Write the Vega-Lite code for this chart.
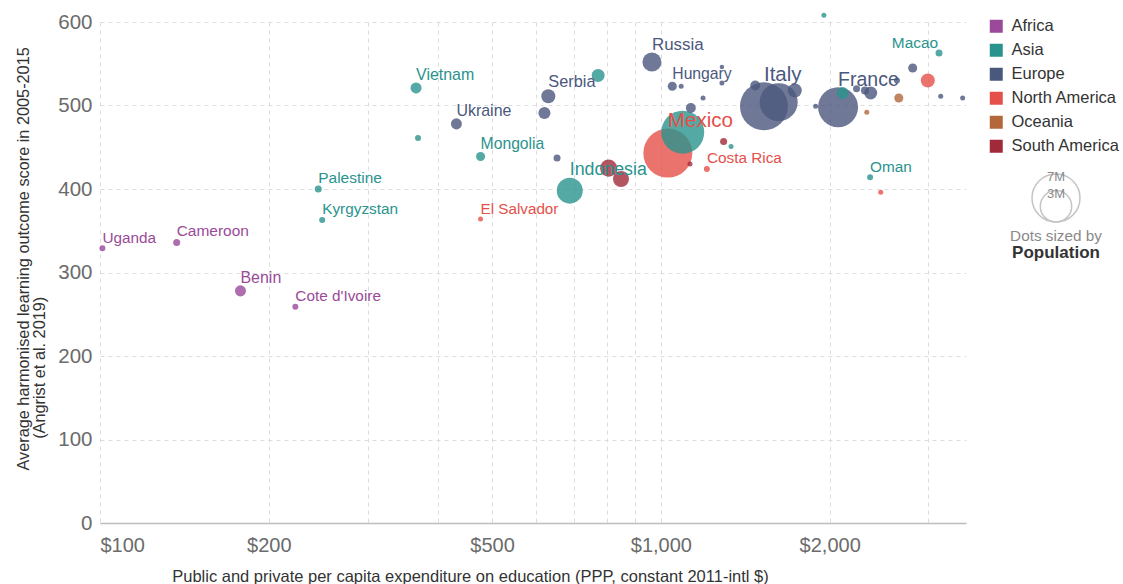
{
  "$schema": "https://vega.github.io/schema/vega-lite/v6.json",
  "autosize": "pad",
  "padding": {"left": 15, "top": 12, "right": 0, "bottom": 0},
  "background": "white",
  "config": {
    "view": {"stroke": null},
    "font": "Liberation Sans",
    "axis": {"gridColor": "#dcdcdc", "gridDash": [4, 4], "gridWidth": 1, "ticks": false}
  },
  "bounds": "flush",
  "spacing": 0,
  "resolve": {"scale": {"size": "independent"}, "legend": {"size": "independent"}},
  "hconcat": [
    {
      "width": 866,
      "height": 501,
      "data": {"values": [
        {"country": "Uganda", "label": "Uganda", "continent": "Africa", "exp": 101, "score": 329, "pop": 0.11},
        {"country": "Cameroon", "label": "Cameroon", "continent": "Africa", "exp": 137, "score": 336, "pop": 0.15},
        {"country": "Benin", "label": "Benin", "continent": "Africa", "exp": 178, "score": 278, "pop": 0.37},
        {"country": "Cote d'Ivoire", "label": "Cote d'Ivoire", "continent": "Africa", "exp": 223, "score": 259, "pop": 0.11},
        {"country": "Palestine", "label": "Palestine", "continent": "Asia", "exp": 245, "score": 400, "pop": 0.15},
        {"country": "Kyrgyzstan", "label": "Kyrgyzstan", "continent": "Asia", "exp": 249, "score": 363, "pop": 0.11},
        {"country": "Vietnam", "label": "Vietnam", "continent": "Asia", "exp": 366, "score": 521, "pop": 0.37},
        {"country": "Asia A", "label": null, "continent": "Asia", "exp": 369, "score": 461, "pop": 0.11},
        {"country": "Mongolia", "label": "Mongolia", "continent": "Asia", "exp": 477, "score": 439, "pop": 0.25},
        {"country": "Asia B", "label": null, "continent": "Asia", "exp": 773, "score": 536, "pop": 0.51},
        {"country": "Indonesia", "label": "Indonesia", "continent": "Asia", "exp": 688, "score": 398, "pop": 2.05},
        {"country": "Asia C", "label": null, "continent": "Asia", "exp": 1094, "score": 468, "pop": 5.62},
        {"country": "Asia D", "label": null, "continent": "Asia", "exp": 1334, "score": 451, "pop": 0.076},
        {"country": "Asia E", "label": null, "continent": "Asia", "exp": 2109, "score": 515, "pop": 0.44},
        {"country": "Oman", "label": "Oman", "continent": "Asia", "exp": 2361, "score": 414, "pop": 0.11},
        {"country": "Macao", "label": "Macao", "continent": "Asia", "exp": 3133, "score": 563, "pop": 0.15},
        {"country": "Asia F", "label": null, "continent": "Asia", "exp": 1953, "score": 608, "pop": 0.076},
        {"country": "Ukraine", "label": "Ukraine", "continent": "Europe", "exp": 432, "score": 478, "pop": 0.37},
        {"country": "Serbia", "label": "Serbia", "continent": "Europe", "exp": 630, "score": 511, "pop": 0.6},
        {"country": "Europe A", "label": null, "continent": "Europe", "exp": 620, "score": 491, "pop": 0.44},
        {"country": "Europe B", "label": null, "continent": "Europe", "exp": 653, "score": 437, "pop": 0.15},
        {"country": "Russia", "label": "Russia", "continent": "Europe", "exp": 964, "score": 552, "pop": 1.1},
        {"country": "Hungary", "label": "Hungary", "continent": "Europe", "exp": 1048, "score": 523, "pop": 0.25},
        {"country": "Europe C", "label": null, "continent": "Europe", "exp": 1087, "score": 523, "pop": 0.076},
        {"country": "Europe D", "label": null, "continent": "Europe", "exp": 1285, "score": 527, "pop": 0.076},
        {"country": "Europe E", "label": null, "continent": "Europe", "exp": 1285, "score": 546, "pop": 0.06},
        {"country": "Europe F", "label": null, "continent": "Europe", "exp": 1189, "score": 509, "pop": 0.076},
        {"country": "Europe G", "label": null, "continent": "Europe", "exp": 1131, "score": 497, "pop": 0.3},
        {"country": "Italy", "label": "Italy", "continent": "Europe", "exp": 1527, "score": 499, "pop": 7.0},
        {"country": "Europe H", "label": null, "continent": "Europe", "exp": 1622, "score": 504, "pop": 4.4},
        {"country": "Europe I", "label": null, "continent": "Europe", "exp": 1473, "score": 524, "pop": 0.3},
        {"country": "Europe J", "label": null, "continent": "Europe", "exp": 1733, "score": 518, "pop": 0.6},
        {"country": "Europe K", "label": null, "continent": "Europe", "exp": 1888, "score": 499, "pop": 0.076},
        {"country": "France", "label": "France", "continent": "Europe", "exp": 2070, "score": 498, "pop": 4.86},
        {"country": "Europe L", "label": null, "continent": "Europe", "exp": 2312, "score": 518, "pop": 0.2},
        {"country": "Europe M", "label": null, "continent": "Europe", "exp": 2367, "score": 515, "pop": 0.51},
        {"country": "Europe N", "label": null, "continent": "Europe", "exp": 2233, "score": 520, "pop": 0.15},
        {"country": "Europe O", "label": null, "continent": "Europe", "exp": 2636, "score": 530, "pop": 0.11},
        {"country": "Europe P", "label": null, "continent": "Europe", "exp": 2812, "score": 545, "pop": 0.25},
        {"country": "Europe Q", "label": null, "continent": "Europe", "exp": 3155, "score": 511, "pop": 0.076},
        {"country": "Europe R", "label": null, "continent": "Europe", "exp": 3452, "score": 509, "pop": 0.076},
        {"country": "El Salvador", "label": "El Salvador", "continent": "North America", "exp": 477, "score": 364, "pop": 0.076},
        {"country": "Mexico", "label": "Mexico", "continent": "North America", "exp": 1029, "score": 443, "pop": 7.29},
        {"country": "Costa Rica", "label": "Costa Rica", "continent": "North America", "exp": 1208, "score": 424, "pop": 0.11},
        {"country": "North America A", "label": null, "continent": "North America", "exp": 2992, "score": 530, "pop": 0.6},
        {"country": "North America B", "label": null, "continent": "North America", "exp": 2466, "score": 396, "pop": 0.076},
        {"country": "Oceania A", "label": null, "continent": "Oceania", "exp": 2656, "score": 509, "pop": 0.25},
        {"country": "Oceania B", "label": null, "continent": "Oceania", "exp": 2329, "score": 492, "pop": 0.076},
        {"country": "South America A", "label": null, "continent": "South America", "exp": 807, "score": 425, "pop": 0.88},
        {"country": "South America B", "label": null, "continent": "South America", "exp": 849, "score": 412, "pop": 0.78},
        {"country": "South America C", "label": null, "continent": "South America", "exp": 1127, "score": 430, "pop": 0.076},
        {"country": "South America D", "label": null, "continent": "South America", "exp": 1294, "score": 457, "pop": 0.15}
      ]},
      "encoding": {
        "x": {
          "field": "exp", "type": "quantitative",
          "scale": {"type": "log", "domain": [100, 3500], "nice": false},
          "axis": {
            "values": [100, 200, 300, 400, 500, 600, 700, 800, 900, 1000, 2000, 3000],
            "labelExpr": "indexof([100, 200, 500, 1000, 2000], datum.value) >= 0 ? '$' + format(datum.value, ',') : ''",
            "labelFlush": true, "labelOverlap": false,
            "labelFontSize": 20, "labelColor": "#6b6b6b", "labelPadding": 12,
            "domain": true, "domainColor": "#bdbdbd", "domainWidth": 1.5,
            "grid": true,
            "title": "Public and private per capita expenditure on education (PPP, constant 2011-intl $)",
            "titleFontSize": 16.5, "titleFontWeight": "normal", "titleColor": "#333333",
            "titleX": 370, "titleY": 53, "titleAlign": "center", "titleBaseline": "middle", "titleAnchor": null
          }
        },
        "y": {
          "field": "score", "type": "quantitative",
          "scale": {"domain": [0, 600], "nice": false},
          "axis": {
            "values": [0, 100, 200, 300, 400, 500, 600],
            "labelFontSize": 20.5, "labelColor": "#6b6b6b", "labelPadding": 8,
            "domain": false, "grid": true,
            "title": ["Average harmonised learning outcome score in 2005-2015", "\u200b\u00a0\u00a0\u00a0\u00a0\u00a0\u00a0\u00a0(Angrist et al. 2019)"],
            "titleFontSize": 16.3, "titleFontWeight": "normal", "titleColor": "#333333",
            "titleAngle": -90, "titleAlign": "left", "titleBaseline": "top",
            "titleX": -85, "titleY": 448, "titleLineHeight": 16.5
          }
        }
      },
      "resolve": {"scale": {"size": "independent"}},
      "layer": [
        {
          "mark": {"type": "point", "shape": "circle", "filled": true, "opacity": 0.8},
          "encoding": {
            "size": {"field": "pop", "type": "quantitative", "scale": {"type": "linear", "domain": [0, 7], "range": [0, 2304], "zero": true}, "legend": null},
            "color": {
              "field": "continent", "type": "nominal",
              "scale": {"domain": ["Africa", "Asia", "Europe", "North America", "Oceania", "South America"],
                        "range": ["#9a4a98", "#2a938d", "#4b587d", "#e5504a", "#b2683a", "#a02a3a"]},
              "legend": {
                "orient": "none", "legendX": 888, "legendY": -4, "title": null,
                "symbolType": "square", "symbolSize": 169, "symbolOpacity": 1, "symbolStrokeWidth": 0,
                "labelFontSize": 16.5, "labelColor": "#333333", "labelOffset": 7,
                "rowPadding": 7, "padding": 0
              }
            },
            "order": {"field": "pop", "type": "quantitative", "sort": "descending"}
          }
        },
        {
          "transform": [{"filter": "datum.label != null && datum.label != 'Macao'"}],
          "mark": {"type": "text", "align": "left", "baseline": "middle", "dy": {"expr": "-(24*sqrt(datum.pop/7)+7.5)"}},
          "encoding": {
            "text": {"field": "label"},
            "color": {"field": "continent", "type": "nominal"},
            "size": {"field": "pop", "type": "quantitative", "scale": {"type": "sqrt", "domain": [0.07, 7.3], "range": [15.2, 20.6], "zero": false}, "legend": null}
          }
        },
        {
          "transform": [{"filter": "datum.label == 'Macao'"}],
          "mark": {"type": "text", "align": "right", "baseline": "middle", "dx": -1, "dy": -10, "fontSize": 15.4},
          "encoding": {
            "text": {"field": "label"},
            "color": {"field": "continent", "type": "nominal"}
          }
        }
      ]
    },
    {
      "width": 180,
      "height": 200,
      "data": {"values": [
        {"size_label": "7M", "pop": 7},
        {"size_label": "3M", "pop": 3}
      ]},
      "title": {
        "text": "Dots sized by", "subtitle": "Population", "orient": "bottom", "anchor": "middle",
        "fontSize": 15.3, "fontWeight": "normal", "color": "#8a8a8a", "offset": 4,
        "subtitleFontSize": 17, "subtitleFontWeight": "bold", "subtitleColor": "#333333", "subtitlePadding": 1
      },
      "layer": [
        {
          "mark": {"type": "point", "shape": "M0,0 A1,1 0 1,1 0,-2 A1,1 0 1,1 0,0 Z", "filled": false, "stroke": "#c4c4c4", "strokeWidth": 1.5, "opacity": 1},
          "encoding": {
            "y": {"datum": 0, "type": "quantitative", "scale": {"type": "sqrt", "domain": [0, 7], "range": [200, 152]}, "axis": null},
            "size": {"field": "pop", "type": "quantitative", "scale": {"type": "linear", "domain": [0, 7], "range": [0, 2304], "zero": true}, "legend": null}
          }
        },
        {
          "mark": {"type": "text", "baseline": "middle", "fontSize": 13, "color": "#8a8a8a", "dy": 3},
          "encoding": {
            "y": {"field": "pop", "type": "quantitative"},
            "text": {"field": "size_label"}
          }
        }
      ]
    }
  ]
}
